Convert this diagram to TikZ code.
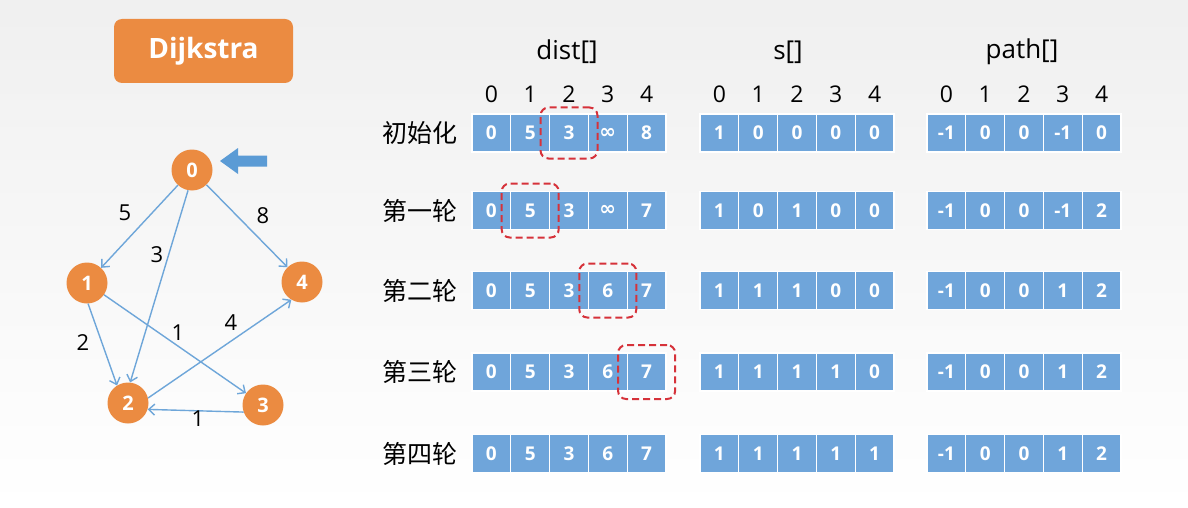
\documentclass[tikz,border=0pt]{standalone}
\usepackage{fontspec}
\setmainfont{Open Sans}
\newfontfamily\cjk{Noto Sans CJK SC}
\newfontfamily\sym{DejaVu Sans}
\usetikzlibrary{arrows.meta}
\definecolor{orng}{HTML}{EB8B41}
\definecolor{cellblue}{HTML}{6FA5DA}
\definecolor{edgeblue}{HTML}{6EA6D9}
\definecolor{arrowblue}{HTML}{5B9BD5}
\definecolor{dred}{HTML}{D6323A}
\newcommand{\inft}{{\sym\bfseries\fontsize{20}{20}\selectfont ∞}}
\begin{document}
\begin{tikzpicture}[x=1pt,y=-1pt,
  vtx/.style={circle,fill=orng,text=white,font=\fontsize{20}{20}\selectfont\bfseries,minimum size=41pt,inner sep=0pt},
  edge/.style={draw=edgeblue,line width=1.4pt,-{Straight Barb[length=6pt,width=11pt]}},
  wlabel/.style={font=\fontsize{22}{22}\selectfont,text=black,inner sep=0pt},
  cell/.style={rectangle,fill=cellblue,draw=white,line width=1.2pt,minimum width=38.8pt,minimum height=38pt,inner sep=0pt,text=white,font=\fontsize{19}{19}\selectfont\bfseries},
  hdr/.style={font=\fontsize{26}{26}\selectfont,inner sep=0pt},
  idx/.style={font=\fontsize{23}{23}\selectfont,inner sep=0pt},
  rowlbl/.style={font=\cjk\fontsize{25}{25}\selectfont,inner sep=0pt},
  sel/.style={draw=dred,line width=2pt,dash pattern=on 7pt off 4pt,rounded corners=8pt,minimum width=57pt,minimum height=54pt,inner sep=0pt}]
\useasboundingbox (0,0) rectangle (1188,508);
\shade[top color=black!6,bottom color=white,middle color=black!3] (0,0) rectangle (1188,508);

% title
\node[fill=orng,rounded corners=8pt,minimum width=179pt,minimum height=64pt,inner sep=0pt,text=white,font=\fontsize{28}{28}\selectfont\bfseries] (title) at (203.5,51) {Dijkstra};

% graph
\node[vtx] (v0) at (192,170) {0};
\node[vtx] (v1) at (87,283) {1};
\node[vtx] (v2) at (128,403) {2};
\node[vtx] (v3) at (263,405) {3};
\node[vtx] (v4) at (302,282) {4};
\fill[arrowblue] (220,161) -- (238,148) -- (238,155.5) -- (267,155.5) -- (267,166.5) -- (238,166.5) -- (238,174) -- cycle;

\draw[edge] (v0) -- (v1);
\draw[edge] (v0.-101) -- (v2.84);
\draw[edge] (v0) -- (v4);
\draw[edge] (v1.-87) -- (v2.122);
\draw[edge] (v1) -- (v3);
\draw[edge] (v2.14) -- (v4.-121);
\draw[edge] (v3.200) -- (v2.-18);

\node[wlabel] (w01) at (125,213) {5};
\node[wlabel] (w02) at (157,255) {3};
\node[wlabel] (w04) at (263,216) {8};
\node[wlabel] (w12) at (83,343) {2};
\node[wlabel] (w13) at (178,333) {1};
\node[wlabel] (w24) at (231,323) {4};
\node[wlabel] (w32) at (198,419) {1};

% headers
\node[hdr] (hd) at (567,52) {dist[]};
\node[hdr] (hs) at (788,52) {s[]};
\node[hdr] (hp) at (1022,52) {path[]};
\foreach \t/\x in {d/472,s/700,p/927}{
  \foreach \c in {0,...,4}{
    \node[idx] (i\t\c) at ({\x+19.4+38.8*\c},94) {\c};
  }
}

% row labels
\node[rowlbl] (r0) at (420,133) {初始化};
\node[rowlbl] (r1) at (420,210.5) {第一轮};
\node[rowlbl] (r2) at (420,290.5) {第二轮};
\node[rowlbl] (r3) at (420,372) {第三轮};
\node[rowlbl] (r4) at (420,453.5) {第四轮};

% dist
\foreach \r/\yy/\vals in {0/133/{0,5,3,\inft,8},1/210.5/{0,5,3,\inft,7},2/290.5/{0,5,3,6,7},3/372/{0,5,3,6,7},4/453.5/{0,5,3,6,7}}{
  \foreach \v [count=\c from 0] in \vals {
    \node[cell] (d-\r-\c) at ({472+19.4+38.8*\c},\yy) {\v};
  }
}
% s
\foreach \r/\yy/\vals in {0/133/{1,0,0,0,0},1/210.5/{1,0,1,0,0},2/290.5/{1,1,1,0,0},3/372/{1,1,1,1,0},4/453.5/{1,1,1,1,1}}{
  \foreach \v [count=\c from 0] in \vals {
    \node[cell] (s-\r-\c) at ({700+19.4+38.8*\c},\yy) {\v};
  }
}
% path
\foreach \r/\yy/\vals in {0/133/{-1,0,0,-1,0},1/210.5/{-1,0,0,-1,2},2/290.5/{-1,0,0,1,2},3/372/{-1,0,0,1,2},4/453.5/{-1,0,0,1,2}}{
  \foreach \v [count=\c from 0] in \vals {
    \node[cell] (p-\r-\c) at ({927+19.4+38.8*\c},\yy) {\v};
  }
}

% highlights
\node[sel,minimum height=51pt] (h0) at (d-0-2) {};
\node[sel] (h1) at (d-1-1) {};
\node[sel] (h2) at (d-2-3) {};
\node[sel] (h3) at (d-3-4) {};
\end{tikzpicture}
\end{document}
